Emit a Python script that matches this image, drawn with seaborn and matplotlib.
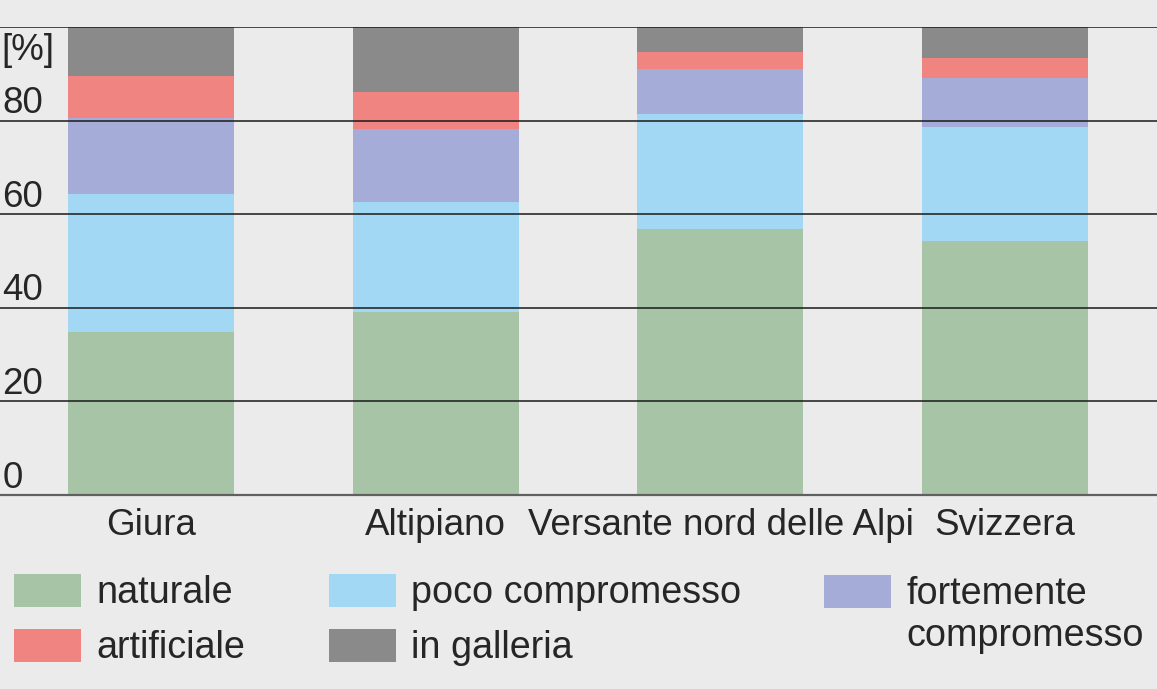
import matplotlib.pyplot as plt
import matplotlib.transforms as mtransforms
import seaborn as sns
import pandas as pd
import numpy as np
from matplotlib.patches import Patch

# stati dei corsi d'acqua per regione [%]
regions = ['Giura', 'Altipiano', 'Versante nord delle Alpi', 'Svizzera']
naturale = [34.8, 39.1, 56.8, 54.3]
poco_compromesso = [29.5, 23.5, 24.6, 24.3]
fortemente_compromesso = [16.3, 15.6, 9.6, 10.5]
artificiale = [8.9, 7.9, 3.7, 4.3]
in_galleria = [10.5, 13.9, 5.3, 6.6]

layer_names = ['naturale', 'poco compromesso', 'fortemente compromesso', 'artificiale', 'in galleria']
layer_colors = ['#a7c4a7', '#a2d8f4', '#a5acd8', '#f08480', '#8a8a8a']
y_ticks = [0, 20, 40, 60, 80, 100]
y_labels = ['0', '20', '40', '60', '80']

bg = '#ebebeb'
txt = '#262626'
fs = 26.5
lfs = 27.2
plt.rcParams['font.family'] = ['Liberation Sans', 'DejaVu Sans']

values = np.array([naturale, poco_compromesso, fortemente_compromesso, artificiale, in_galleria])
cum = np.cumsum(values, axis=0)

fig = plt.figure(figsize=(11.57, 6.89), dpi=100, facecolor=bg)
ax = fig.add_axes([0, 1 - 495 / 689, 1, 468 / 689])
ax.set_facecolor(bg)

# stacked bars: draw cumulative totals from the top layer down
for i in reversed(range(len(layer_names))):
    df = pd.DataFrame({'regione': regions, 'valore': cum[i]})
    sns.barplot(data=df, x='regione', y='valore', color=layer_colors[i], width=0.583,
                saturation=1, linewidth=0, errorbar=None, ax=ax)

ax.set_xlim(-0.530, 3.533)
ax.set_ylim(0, 100)
ax.set_xlabel('')
ax.set_ylabel('')

ax.set_yticks(y_ticks)
ax.grid(axis='y', color='#1a1a1a', linewidth=1.1)
ax.grid(axis='x', visible=False)
ax.tick_params(axis='y', length=0, labelleft=False)
ax.tick_params(axis='x', length=0, pad=9.5, labelsize=fs, labelcolor=txt)

for s in ['top', 'left', 'right']:
    ax.spines[s].set_visible(False)
ax.spines['bottom'].set_color('#606060')
ax.spines['bottom'].set_linewidth(1.6)

trans = mtransforms.blended_transform_factory(ax.transAxes, ax.transData)
for v, lab in zip(y_ticks, y_labels):
    ax.text(0.002, v + 1.6, lab, transform=trans, ha='left', va='baseline',
            fontsize=fs, color=txt)
ax.text(0.001, 98.8, '[%]', transform=trans, ha='left', va='top', fontsize=fs, color=txt)

# legend: two columns of two entries, plus the two-line entry on the right
h = {n: Patch(facecolor=c, edgecolor='none') for n, c in zip(layer_names, layer_colors)}
leg_kw = dict(loc='upper left', frameon=False, fontsize=lfs, labelcolor=txt,
              borderpad=0, borderaxespad=0, handlelength=1.77, handleheight=0.95,
              handletextpad=0.42)
order = ['naturale', 'artificiale', 'poco compromesso', 'in galleria']
fig.legend([h[n] for n in order], order, ncol=2, columnspacing=2.2, labelspacing=0.47,
           bbox_to_anchor=(14 / 1157, 1 - 574 / 689), **leg_kw)
blank = Patch(facecolor='none', edgecolor='none')
fig.legend([h['fortemente compromesso'], blank], ['fortemente', 'compromesso'],
           labelspacing=0.12, bbox_to_anchor=(824 / 1157, 1 - 575 / 689), **leg_kw)

fig.savefig('out.png', dpi=100, facecolor=bg)
